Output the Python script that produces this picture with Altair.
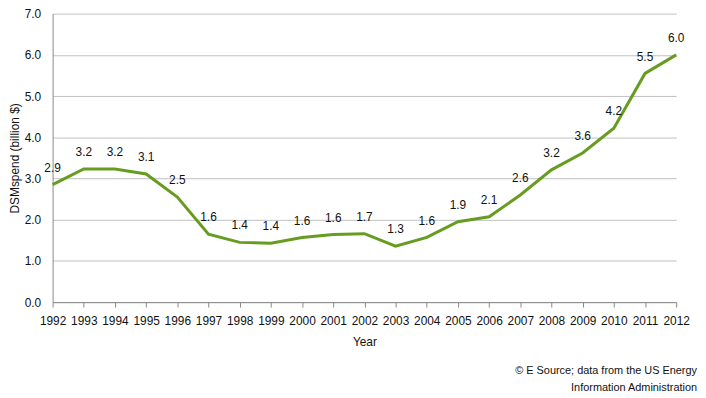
import altair as alt
import pandas as pd

years = list(range(1992, 2013))
spend = [2.85, 3.23, 3.23, 3.11, 2.55, 1.65, 1.45, 1.43, 1.57, 1.64, 1.66,
         1.36, 1.57, 1.95, 2.07, 2.60, 3.21, 3.62, 4.22, 5.55, 6.00]
labels = ["2.9", "3.2", "3.2", "3.1", "2.5", "1.6", "1.4", "1.4", "1.6", "1.6", "1.7",
          "1.3", "1.6", "1.9", "2.1", "2.6", "3.2", "3.6", "4.2", "5.5", "6.0"]
caption = ["© E Source; data from the US Energy", "Information  Administration"]

df = pd.DataFrame({"Year": years, "Spend": spend, "Label": labels})

FONT = "Liberation Sans"

x = alt.X("Year:Q", title="Year",
          scale=alt.Scale(domain=[1992, 2012], nice=False, zero=False),
          axis=alt.Axis(values=years, format="d", grid=False, tickSize=5,
                        tickColor="#888888", domainColor="#888888",
                        labelFontSize=12, labelColor="#111111", labelFont=FONT,
                        labelPadding=9, labelOverlap=False,
                        titleFont=FONT, titleFontSize=12,
                        titleFontWeight="normal", titleColor="#111111",
                        titlePadding=10, labelFlush=False))
y = alt.Y("Spend:Q", title="DSMspend (billion $)",
          scale=alt.Scale(domain=[0, 7], nice=False),
          axis=alt.Axis(values=[0, 1, 2, 3, 4, 5, 6, 7], format=".1f",
                        grid=True, gridColor="#c0c0c0", ticks=False,
                        domainColor="#888888", labelFontSize=12,
                        labelColor="#111111", labelFont=FONT, labelPadding=12,
                        titleFont=FONT, titleFontSize=12, titleFontWeight="normal",
                        titleColor="#111111", titlePadding=3))

line = alt.Chart(df).mark_line(color="#669c1f", strokeWidth=3).encode(x=x, y=y)
text = alt.Chart(df).mark_text(dy=-17, fontSize=12, font=FONT, color="#111111",
                               baseline="middle").encode(
    x=x, y=y, text="Label:N")
capt = alt.Chart(df.head(1)).mark_text(
    align="right", baseline="middle", fontSize=11, font=FONT, color="#111111",
    text="\n".join(caption), lineBreak="\n", lineHeight=18).encode(
    x=alt.value(650), y=alt.value(360))

chart = alt.layer(line, text, capt).properties(
    width=629, height=291,
    autosize=alt.AutoSizeParams(type="none"),
    padding={"left": 45, "top": 4, "right": 22, "bottom": 95},
).configure_view(stroke=None)

chart.save("out.html", embed_options={"renderer": "svg", "actions": False})
